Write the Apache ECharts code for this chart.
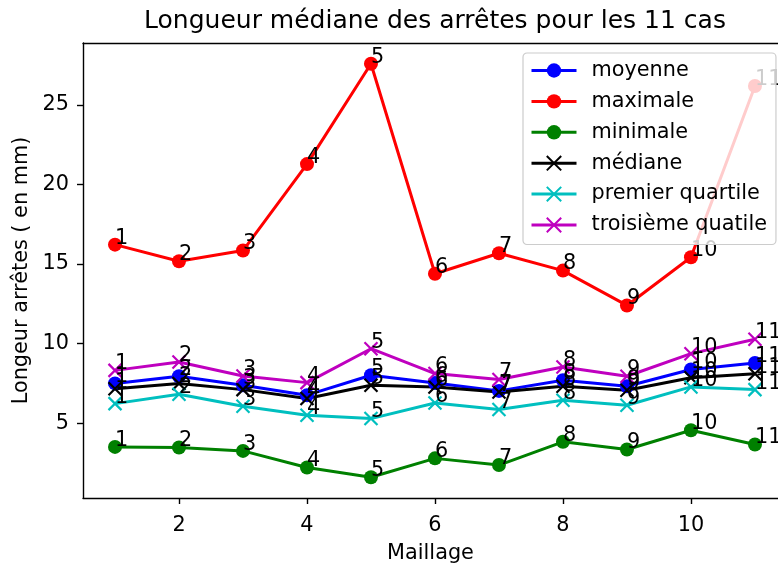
<!DOCTYPE html>
<html>
<head>
<meta charset="utf-8">
<script src="https://cdn.jsdelivr.net/npm/echarts@6/dist/echarts.min.js"></script>
<style>
  html, body { margin: 0; padding: 0; background: #fff; }
  #chart { width: 778px; height: 565px; }
</style>
</head>
<body>
<div id="chart"></div>
<script>
// Cas de maillage 1..11
const cases = [1, 2, 3, 4, 5, 6, 7, 8, 9, 10, 11];

// Longueurs des arêtes (mm) par cas
const moyenne   = [7.50, 7.95, 7.38, 6.76, 8.01, 7.53, 7.03, 7.70, 7.32, 8.37, 8.78];
const maximale  = [16.22, 15.18, 15.85, 21.28, 27.59, 14.39, 15.68, 14.59, 12.40, 15.43, 26.19];
const minimale  = [3.51, 3.47, 3.26, 2.22, 1.60, 2.79, 2.37, 3.83, 3.35, 4.56, 3.66];
const mediane   = [7.17, 7.49, 7.11, 6.55, 7.38, 7.28, 6.96, 7.32, 7.07, 7.86, 8.11];
const premierQ  = [6.23, 6.82, 6.07, 5.50, 5.29, 6.27, 5.86, 6.44, 6.13, 7.28, 7.11];
const troisQ    = [8.32, 8.84, 7.97, 7.55, 9.68, 8.12, 7.74, 8.53, 7.95, 9.37, 10.27];

// Graduations
const xTicks = [2, 4, 6, 8, 10];
const yTicks = [5, 10, 15, 20, 25];

const FONT = 'DejaVu Sans';
const CROSS = 'path://M0,0L10,10M10,0L0,10';

function makeSeries(name, values, color, marker) {
  const isCross = marker === 'x';
  return {
    name: name,
    type: 'line',
    xAxisIndex: 0,
    data: cases.map((c, i) => [c, values[i]]),
    symbol: isCross ? CROSS : 'circle',
    symbolSize: isCross ? 13 : 14,
    showAllSymbol: true,
    lineStyle: { color: color, width: 3 },
    itemStyle: isCross
      ? { color: color, borderColor: color, borderWidth: 2.2 }
      : { color: color, borderWidth: 0 },
    label: {
      show: true,
      position: 'inside',
      align: 'left',
      verticalAlign: 'bottom',
      offset: [0, 4],
      formatter: p => String(p.value[0]),
      color: '#000',
      fontFamily: FONT,
      fontSize: 20.8
    },
    emphasis: { disabled: true },
    z: 2
  };
}

const chart = echarts.init(document.getElementById('chart'), null, { renderer: 'canvas' });

const axisLineStyle = { color: '#000', width: 1.4 };

chart.setOption({
  animation: false,
  backgroundColor: '#fff',
  title: {
    text: 'Longueur médiane des arrêtes pour les 11 cas',
    left: 435,
    top: 9,
    padding: 0,
    textAlign: 'center',
    textStyle: { fontFamily: FONT, fontSize: 25, fontWeight: 'normal', color: '#000' }
  },
  grid: {
    left: 83, top: 43, right: 0, bottom: 67,
    show: false,
    containLabel: false,
    outerBoundsMode: 'none'
  },
  legend: {
    orient: 'vertical',
    left: 523,
    top: 53,
    padding: [7, 9, 9, 7],
    itemWidth: 45,
    itemHeight: 18,
    itemGap: 9.9,
    lineStyle: { width: 3 },
    backgroundColor: 'rgba(255,255,255,0.8)',
    borderColor: '#cccccc',
    borderWidth: 1.2,
    borderRadius: 4,
    textStyle: {
      fontFamily: FONT, fontSize: 20.8, color: '#000',
      lineHeight: 18, padding: [0, 0, 0, 10]
    },
    z: 10
  },
  xAxis: [
    {
      type: 'value',
      position: 'bottom',
      min: 0.5,
      max: 11.36,
      name: 'Maillage',
      nameLocation: 'middle',
      nameGap: 45,
      nameTextStyle: { fontFamily: FONT, fontSize: 20.8, color: '#000' },
      splitLine: { show: false },
      axisLine: { show: true, onZero: false, lineStyle: axisLineStyle },
      axisTick: { show: true, customValues: xTicks, length: 6, lineStyle: axisLineStyle },
      axisLabel: { customValues: xTicks, margin: 17, fontFamily: FONT, fontSize: 20.8, color: '#000' }
    },
    {
      // cadre supérieur
      type: 'value',
      position: 'top',
      min: 0.5,
      max: 11.36,
      splitLine: { show: false },
      axisLine: { show: true, onZero: false, lineStyle: axisLineStyle },
      axisTick: { show: false },
      axisLabel: { show: false }
    }
  ],
  yAxis: {
    type: 'value',
    min: 0.3,
    max: 28.89,
    name: 'Longeur arrêtes ( en mm)',
    nameLocation: 'middle',
    nameGap: 48,
    nameTextStyle: { fontFamily: FONT, fontSize: 20.8, color: '#000' },
    splitLine: { show: false },
    axisLine: { show: true, onZero: false, lineStyle: axisLineStyle },
    axisTick: { show: true, customValues: yTicks, length: 6, lineStyle: axisLineStyle },
    axisLabel: { customValues: yTicks, margin: 14, fontFamily: FONT, fontSize: 20.8, color: '#000' }
  },
  series: [
    makeSeries('moyenne', moyenne, '#0000ff', 'o'),
    makeSeries('maximale', maximale, '#ff0000', 'o'),
    makeSeries('minimale', minimale, '#008000', 'o'),
    makeSeries('médiane', mediane, '#000000', 'x'),
    makeSeries('premier quartile', premierQ, '#00bfbf', 'x'),
    makeSeries('troisième quatile', troisQ, '#bf00bf', 'x')
  ]
});
</script>
</body>
</html>
